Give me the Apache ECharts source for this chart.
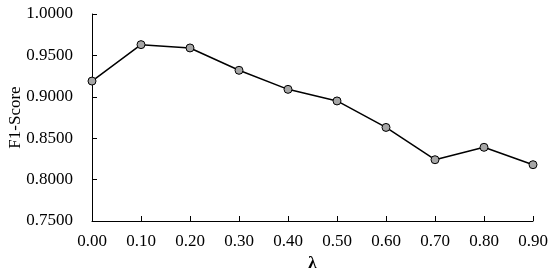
<!DOCTYPE html>
<html>
<head>
<meta charset="utf-8">
<script src="https://cdn.jsdelivr.net/npm/echarts@6/dist/echarts.min.js"></script>
<style>
  html, body { margin: 0; padding: 0; background: #fff; }
  #main { width: 550px; height: 277px; }
</style>
</head>
<body>
<div id="main"></div>
<script>
const lambdas = ['0.00', '0.10', '0.20', '0.30', '0.40', '0.50', '0.60', '0.70', '0.80', '0.90'];
const f1Scores = [0.919, 0.963, 0.959, 0.932, 0.909, 0.895, 0.863, 0.824, 0.839, 0.818];

const font = '"Liberation Serif", "Times New Roman", serif';

const drawEcharts = (option, id) => {
  let dom = document.getElementById(id)
  let echart = echarts.init(dom)
  option && echart.setOption(option)
}

// 折线图
const option = {
  animation: false,
  backgroundColor: '#fff',
  grid: { left: 92, right: 17, top: 14, bottom: 56, containLabel: false, outerBoundsMode: 'none' },
  xAxis: {
    type: 'category',
    data: lambdas,
    boundaryGap: false,
    name: 'λ',
    nameLocation: 'middle',
    nameGap: 34,
    nameMoveOverlap: false,
    nameTextStyle: { fontFamily: font, fontSize: 17, fontWeight: 'bold', color: '#000' },
    axisLine: { lineStyle: { color: '#000', width: 1 } },
    axisTick: { inside: true, length: 5, lineStyle: { color: '#000' } },
    axisLabel: { fontFamily: font, fontSize: 17, color: '#000', margin: 12 },
    splitLine: { show: false }
  },
  yAxis: {
    type: 'value',
    min: 0.75,
    max: 1.0,
    interval: 0.05,
    name: 'F1-Score',
    nameLocation: 'middle',
    nameGap: 68,
    nameMoveOverlap: false,
    nameTextStyle: { fontFamily: font, fontSize: 17, color: '#000' },
    axisLine: { show: true, lineStyle: { color: '#000', width: 1 } },
    axisTick: { show: true, inside: true, length: 5, lineStyle: { color: '#000' } },
    axisLabel: {
      fontFamily: font, fontSize: 17, color: '#000', margin: 19,
      formatter: v => v.toFixed(4)
    },
    splitLine: { show: false }
  },
  series: [{
    type: 'line',
    data: f1Scores,
    symbol: 'circle',
    symbolSize: 8,
    lineStyle: { color: '#000', width: 1.5 },
    itemStyle: { color: '#a6a6a6', borderColor: '#000', borderWidth: 1 }
  }]
};

drawEcharts(option, 'main')
</script>
</body>
</html>
